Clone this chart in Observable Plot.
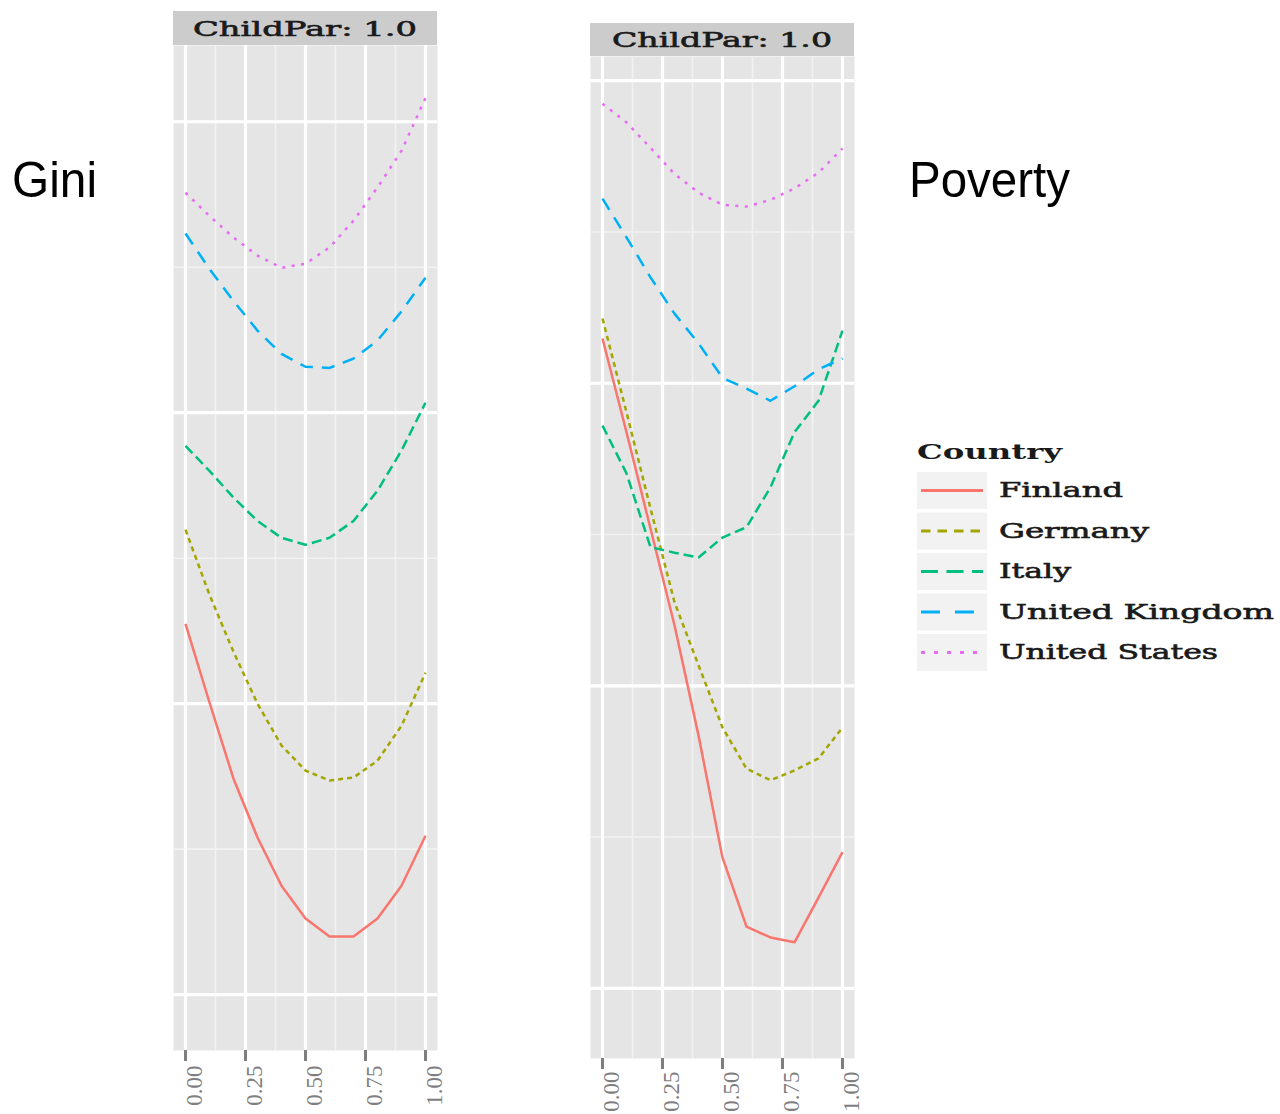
<!DOCTYPE html>
<html>
<head>
<meta charset="utf-8">
<script src="https://cdn.jsdelivr.net/npm/d3@7"></script>
<script src="https://cdn.jsdelivr.net/npm/@observablehq/plot@0.6"></script>
<style>
  html, body { margin: 0; padding: 0; background: #ffffff; }
  #page { position: relative; width: 1280px; height: 1114px; overflow: hidden; background: #ffffff; }
  .panel { position: absolute; }
  .panel svg { display: block; overflow: visible; }
  #overlay { position: absolute; left: 0; top: 0; pointer-events: none; }
</style>
</head>
<body>
<div id="page"></div>
<script>
// Share parameter on the x axis (0 to 1 in steps of 0.1)
const share = [0, 0.1, 0.2, 0.3, 0.4, 0.5, 0.6, 0.7, 0.8, 0.9, 1.0];

const countries = ["Finland", "Germany", "Italy", "United Kingdom", "United States"];
const countryColors = ["#F8766D", "#A3A500", "#00BF7D", "#00B0F6", "#E76BF3"];

// Gini coefficient by country
const giniFinland = [0.3137, 0.3002, 0.2871, 0.2770, 0.2687, 0.2631, 0.2600, 0.2600, 0.2631, 0.2687, 0.2773];
const giniGermany = [0.3299, 0.3187, 0.3089, 0.3000, 0.2928, 0.2885, 0.2868, 0.2873, 0.2902, 0.2962, 0.3053];
const giniItaly   = [0.3443, 0.3400, 0.3354, 0.3314, 0.3285, 0.3273, 0.3285, 0.3314, 0.3366, 0.3435, 0.3517];
const giniUK      = [0.3808, 0.3747, 0.3692, 0.3641, 0.3601, 0.3579, 0.3577, 0.3593, 0.3624, 0.3674, 0.3732];
const giniUS      = [0.3878, 0.3838, 0.3801, 0.3770, 0.3749, 0.3756, 0.3784, 0.3830, 0.3887, 0.3950, 0.4041];

// Poverty rate by country
const povertyFinland = [0.1574, 0.1419, 0.1260, 0.1100, 0.0918, 0.0716, 0.0602, 0.0584, 0.0576, 0.0650, 0.0725];
const povertyGermany = [0.1607, 0.1452, 0.1293, 0.1138, 0.1034, 0.0931, 0.0863, 0.0844, 0.0860, 0.0880, 0.0931];
const povertyItaly   = [0.1430, 0.1351, 0.1229, 0.1220, 0.1212, 0.1245, 0.1262, 0.1328, 0.1419, 0.1471, 0.1587];
const povertyUK      = [0.1805, 0.1741, 0.1675, 0.1615, 0.1566, 0.1509, 0.1491, 0.1471, 0.1495, 0.1523, 0.1541];
const povertyUS      = [0.1962, 0.1931, 0.1889, 0.1846, 0.1815, 0.1795, 0.1792, 0.1803, 0.1822, 0.1848, 0.1888];

// Axis breaks
const xTicks = [0, 0.25, 0.5, 0.75, 1];
const xMinorTicks = [0.125, 0.375, 0.625, 0.875];
const giniTicks = [0.25, 0.30, 0.35, 0.40];
const giniMinorTicks = [0.275, 0.325, 0.375];
const povertyTicks = [0.05, 0.10, 0.15, 0.20];
const povertyMinorTicks = [0.075, 0.125, 0.175];

const stripLabel = "ChildPar: 1.0";
const legendTitle = "Country";

// Line styles per country (ggplot-like linetypes scaled to the line width)
const lineDashes = [null, "5,4", "10,5", "13,9", "3,6.5"];
const keyDashes = [null, "9.5,7", "17,8.5", "19,15", "4,9"];

function toRows(seriesList) {
  const rows = [];
  seriesList.forEach((values, i) => {
    values.forEach((v, j) => rows.push({country: countries[i], share: share[j], value: v}));
  });
  return rows;
}

const giniRows = toRows([giniFinland, giniGermany, giniItaly, giniUK, giniUS]);
const povertyRows = toRows([povertyFinland, povertyGermany, povertyItaly, povertyUK, povertyUS]);

const page = document.getElementById("page");

function drawPanel({rows, yDomain, yTicks, yMinor, left, top, panelHeight, marginBottom, labelPad}) {
  const lines = countries.map((c, i) => Plot.line(rows.filter(d => d.country === c), {
    x: "share", y: "value",
    stroke: countryColors[i], strokeWidth: 2.5,
    strokeDasharray: lineDashes[i] || undefined,
    strokeLinecap: "butt", strokeLinejoin: "round"
  }));
  const chart = Plot.plot({
    width: 264,
    height: panelHeight + marginBottom,
    marginLeft: 0, marginRight: 0, marginTop: 0, marginBottom,
    x: {domain: [-0.05, 1.05], label: null},
    y: {domain: yDomain, axis: null, label: null},
    marks: [
      Plot.frame({fill: "#e5e5e5", stroke: null}),
      Plot.gridY(yMinor, {stroke: "#f2f2f2", strokeOpacity: 1, strokeWidth: 1.6}),
      Plot.gridX(xMinorTicks, {stroke: "#f2f2f2", strokeOpacity: 1, strokeWidth: 1.6}),
      Plot.gridY(yTicks, {stroke: "#ffffff", strokeOpacity: 1, strokeWidth: 3.2}),
      Plot.gridX(xTicks, {stroke: "#ffffff", strokeOpacity: 1, strokeWidth: 3.2}),
      ...lines,
      Plot.axisX(xTicks, {tickSize: 11, tickFormat: () => "", stroke: "#7f7f7f", strokeWidth: 3, label: null}),
      Plot.axisX(xTicks, {
        tickSize: 0, tickPadding: labelPad, tickRotate: -90,
        tickFormat: d3.format(".2f"),
        fontSize: 23, fontFamily: "Liberation Serif", fill: "#7f7f7f",
        dx: 9, label: null
      })
    ]
  });
  const holder = document.createElement("div");
  holder.className = "panel";
  holder.style.left = left + "px";
  holder.style.top = top + "px";
  holder.appendChild(chart);
  page.appendChild(holder);
}

drawPanel({rows: giniRows, yDomain: [0.2404, 0.4131], yTicks: giniTicks, yMinor: giniMinorTicks,
  left: 173, top: 45, panelHeight: 1005, marginBottom: 64, labelPad: 15});
drawPanel({rows: povertyRows, yDomain: [0.0384, 0.2040], yTicks: povertyTicks, yMinor: povertyMinorTicks,
  left: 590, top: 56, panelHeight: 1002, marginBottom: 56, labelPad: 13});

// Strips, panel titles and legend
const svg = d3.select(page).append("svg")
  .attr("id", "overlay").attr("width", 1280).attr("height", 1114);

function fitText(sel, x, y, str, width, opts) {
  const t = sel.append("text")
    .attr("x", x).attr("y", y)
    .attr("font-family", opts.family)
    .attr("font-size", opts.size)
    .attr("font-weight", opts.weight || "normal")
    .attr("fill", opts.fill || "#1a1a1a")
    .attr("text-anchor", opts.anchor || "start")
    .attr("textLength", width)
    .attr("lengthAdjust", "spacingAndGlyphs")
    .text(str);
  if (opts.heavy) t.attr("stroke", opts.fill || "#1a1a1a").attr("stroke-width", opts.heavy);
  return t;
}

[[173, 11, 34, 305, 36, 224], [590, 23, 33, 722, 47, 220]].forEach(([x, y, h, cx, by, w]) => {
  svg.append("rect").attr("x", x).attr("y", y).attr("width", 264).attr("height", h).attr("fill", "#cccccc");
  fitText(svg, cx, by, stripLabel, w, {family: "DejaVu Serif", size: 20, anchor: "middle", heavy: 0.6});
});

fitText(svg, 12, 197, "Gini", 85, {family: "Liberation Sans", size: 50, fill: "#000000"});
fitText(svg, 909, 197, "Poverty", 161, {family: "Liberation Sans", size: 50, fill: "#000000"});

fitText(svg, 917, 459, legendTitle, 145, {family: "DejaVu Serif", size: 21, weight: "bold"});
const entryWidths = [124, 150, 72, 275, 219];
countries.forEach((c, i) => {
  const top = 472 + i * 40.5;
  svg.append("rect").attr("x", 917).attr("y", top).attr("width", 70).attr("height", 37).attr("fill", "#f2f2f2");
  svg.append("line")
    .attr("x1", 921).attr("x2", 983)
    .attr("y1", top + 18.5).attr("y2", top + 18.5)
    .attr("stroke", countryColors[i]).attr("stroke-width", 3.2)
    .attr("stroke-dasharray", keyDashes[i])
    .attr("stroke-linecap", "butt");
  fitText(svg, 999, top + 25, c, entryWidths[i], {family: "DejaVu Serif", size: 20.5, heavy: 0.6});
});
</script>
</body>
</html>
